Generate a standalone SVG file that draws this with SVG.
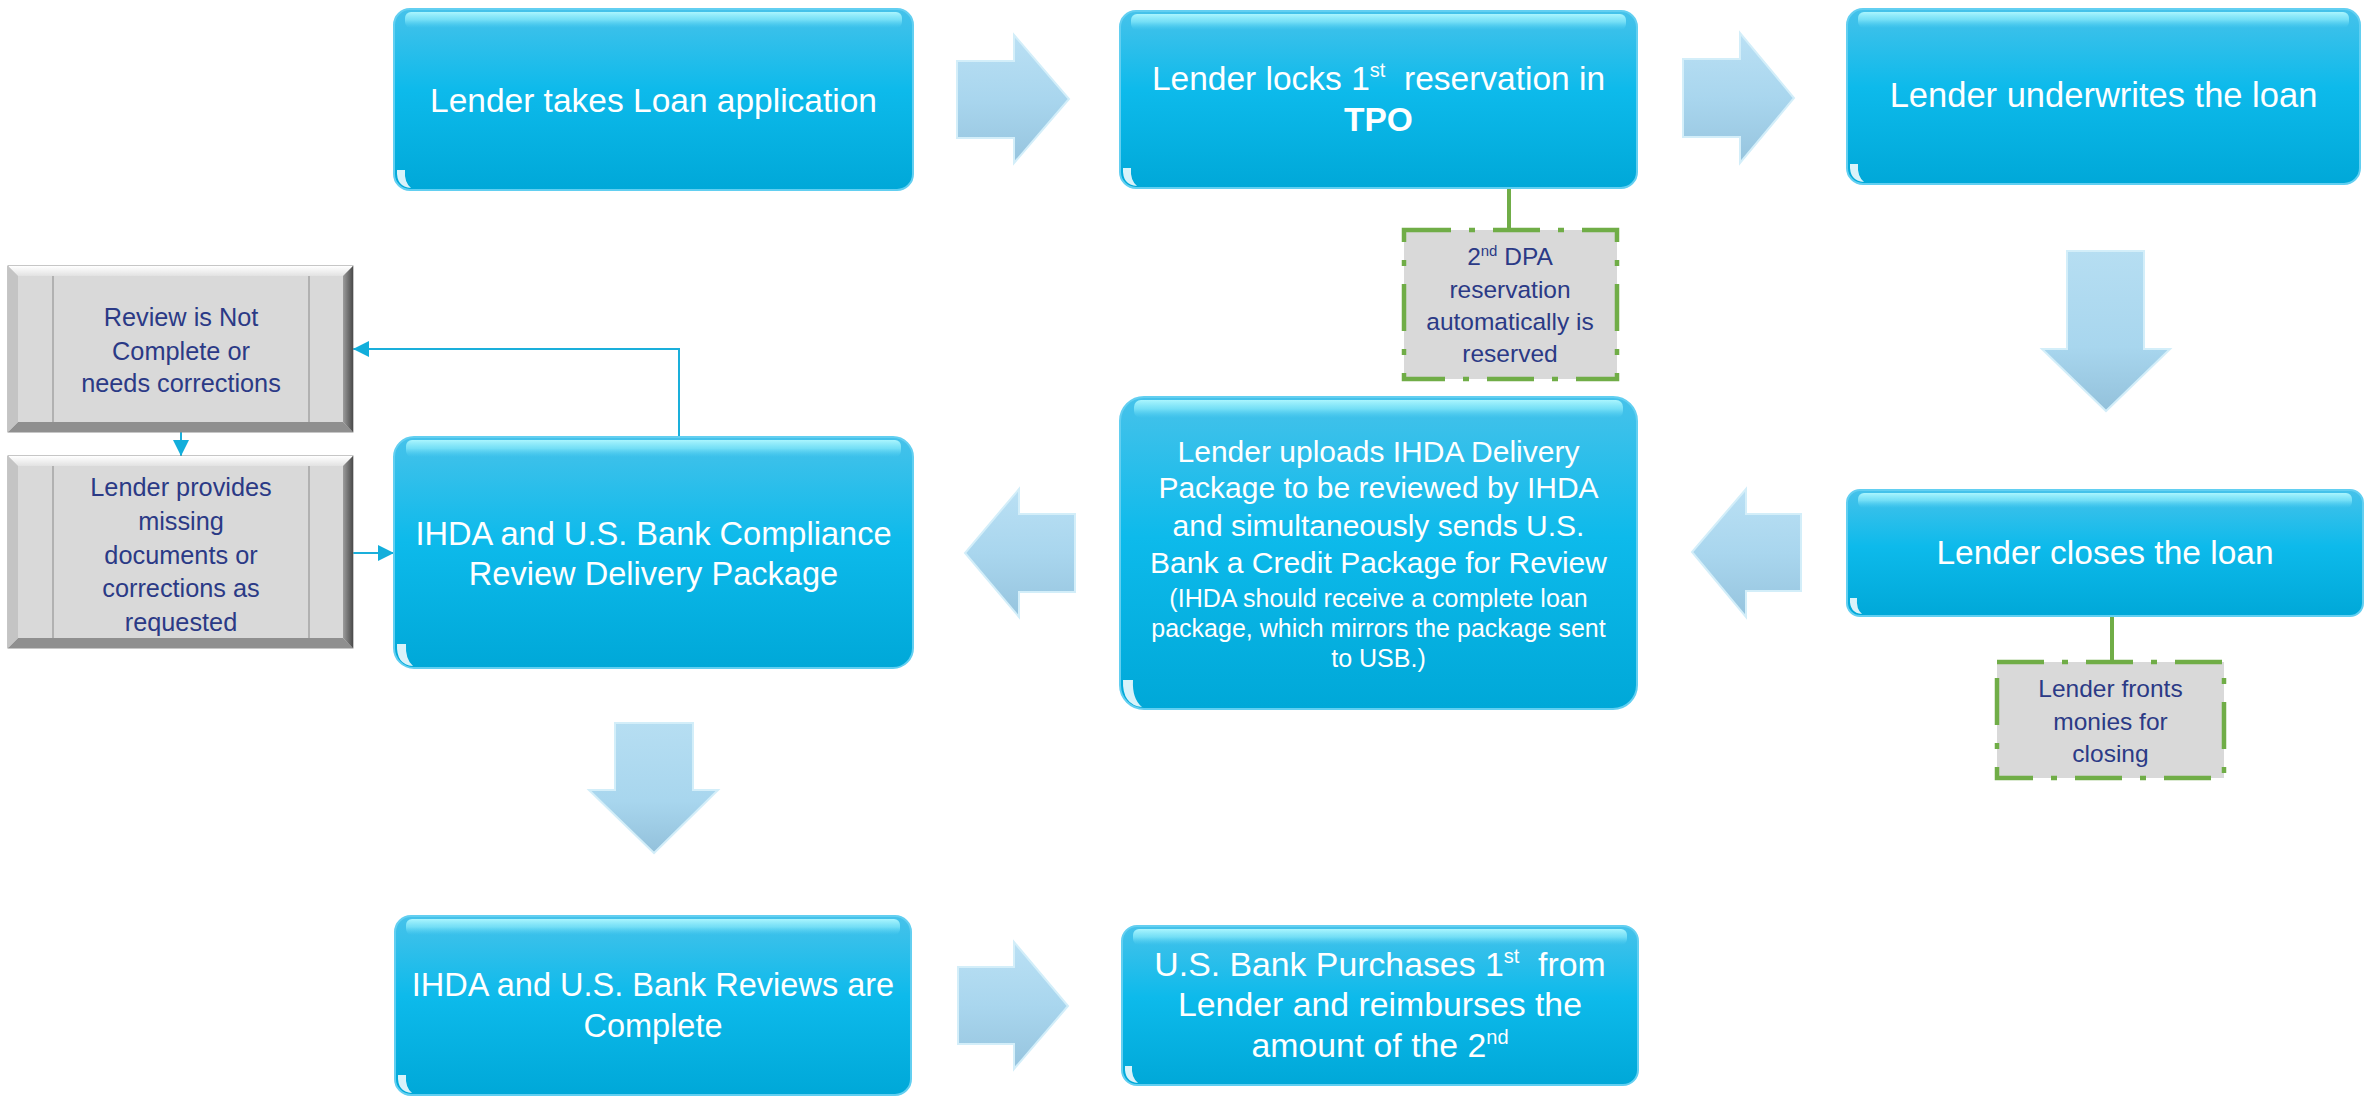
<svg xmlns="http://www.w3.org/2000/svg" width="2371" height="1097" viewBox="0 0 2371 1097">
<defs>
<style>
.box{fill:url(#gBox);stroke:#62CFF1;stroke-width:2}
.hl{fill:url(#gHl)}
.gloss{fill:#FFFFFF;opacity:0.85}
.bt{font-family:"Liberation Sans",Arial,sans-serif;fill:#FFFFFF;text-anchor:middle;font-size:33.5px}
.gt{font-family:"Liberation Sans",Arial,sans-serif;fill:#2B3A86;text-anchor:middle;font-size:25.3px}
.nt{font-family:"Liberation Sans",Arial,sans-serif;fill:#2B3A86;text-anchor:middle;font-size:24.5px}
.arr{fill:url(#gArr);stroke:#D3EEF9;stroke-width:2}
.arrd{fill:url(#gArrD);stroke:#D3EEF9;stroke-width:2}
.note{fill:#D9D9D9;stroke:#70AD47;stroke-width:4.5;stroke-dasharray:47 18 6 18}
.gline{stroke:#70AD47;stroke-width:4;fill:none}
.bline{stroke:#1AAFDB;stroke-width:2;fill:none}
.gbox{fill:#D9D9D9;stroke:#8E8E8E;stroke-width:1}
.bvT{fill:url(#gBvT)}
.bvB{fill:#8F8F8F}
.bvR{fill:url(#gBvR)}
.bvL{fill:#C4C4C4}
.inl{stroke:#A3A3A3;stroke-width:1.5}
</style>
<linearGradient id="gBox" x1="0" y1="0" x2="0" y2="1">
<stop offset="0" stop-color="#46C2EA"/>
<stop offset="0.45" stop-color="#0DBAEB"/>
<stop offset="1" stop-color="#00A8D8"/>
</linearGradient>
<linearGradient id="gHl" x1="0" y1="0" x2="0" y2="1">
<stop offset="0" stop-color="#B0F8FF" stop-opacity="0.95"/>
<stop offset="0.5" stop-color="#8AEBFB" stop-opacity="0.7"/>
<stop offset="1" stop-color="#5AD3F3" stop-opacity="0"/>
</linearGradient>
<linearGradient id="gArr" x1="0" y1="0" x2="0" y2="1">
<stop offset="0" stop-color="#BAE0F4"/>
<stop offset="0.5" stop-color="#A9D6EE"/>
<stop offset="1" stop-color="#96C4DE"/>
</linearGradient>
<linearGradient id="gArrD" x1="0" y1="0" x2="0" y2="1">
<stop offset="0" stop-color="#B6DEF2"/>
<stop offset="0.6" stop-color="#A8D6EE"/>
<stop offset="1" stop-color="#93C1DB"/>
</linearGradient>
<linearGradient id="gBvT" x1="0" y1="0" x2="0" y2="1">
<stop offset="0" stop-color="#FFFFFF"/>
<stop offset="1" stop-color="#E2E2E2"/>
</linearGradient>
<linearGradient id="gBvR" x1="1" y1="0" x2="0" y2="0">
<stop offset="0" stop-color="#4A4A4A"/>
<stop offset="1" stop-color="#9C9C9C"/>
</linearGradient>
<marker id="ah" viewBox="0 0 16 16" refX="16" refY="8" markerWidth="16" markerHeight="16" markerUnits="userSpaceOnUse" orient="auto">
<path d="M0,0 L16,8 L0,16 z" fill="#12AEDB"/>
</marker>
</defs>
<rect width="2371" height="1097" fill="#FFFFFF"/>

<g id="connectors">
<path class="gline" d="M1509,188 V230"/>
<path class="gline" d="M2112,616 V662"/>
<path class="bline" d="M679,437 V349 H353" marker-end="url(#ah)"/>
<path class="bline" d="M181,432 V456" marker-end="url(#ah)"/>
<path class="bline" d="M353,553 H394" marker-end="url(#ah)"/>
<polygon class="arr" points="957,61 1014,61 1014,35 1069,99 1014,163 1014,138 957,138"/>
<polygon class="arr" points="1683,59 1740,59 1740,33 1794,98 1740,163 1740,137 1683,137"/>
<polygon class="arrd" points="2067,251 2144,251 2144,349 2170,349 2106,411 2042,349 2067,349"/>
<polygon class="arr" points="1801,514 1746,514 1746,489 1692,552 1746,617 1746,591 1801,591"/>
<polygon class="arr" points="1075,514 1019,514 1019,489 965,553 1019,617 1019,592 1075,592"/>
<polygon class="arrd" points="615,723 693,723 693,790 718,790 654,853 589,790 615,790"/>
<polygon class="arr" points="958,967 1014,967 1014,942 1068,1006 1014,1069 1014,1044 958,1044"/>
</g>

<g id="n1">
<rect class="box" x="394" y="9" width="519" height="181" rx="16"/>
<rect class="hl" x="405" y="12" width="497" height="16" rx="6"/>
<path class="gloss" d="M397,170 Q396,187 411,188 Q404,182 405,170 Z"/>
<text class="bt" x="653.5" y="112">Lender takes Loan application</text>
</g>

<g id="n2">
<rect class="box" x="1120" y="11" width="517" height="177" rx="16"/>
<rect class="hl" x="1131" y="14" width="495" height="16" rx="6"/>
<path class="gloss" d="M1123,168 Q1122,185 1137,186 Q1130,180 1131,168 Z"/>
<text class="bt" x="1378.5" y="90">Lender locks 1<tspan font-size="20" dy="-13">st</tspan><tspan dy="13">&#160; reservation in</tspan></text>
<text class="bt" x="1378.5" y="131" font-weight="bold">TPO</text>
</g>

<g id="n3">
<rect class="box" x="1847" y="9" width="513" height="175" rx="16"/>
<rect class="hl" x="1858" y="12" width="491" height="16" rx="6"/>
<path class="gloss" d="M1850,164 Q1849,181 1864,182 Q1857,176 1858,164 Z"/>
<text class="bt" x="2103.5" y="107" style="font-size:34.5px">Lender underwrites the loan</text>
</g>

<g id="note1">
<rect class="note" x="1404" y="230" width="213" height="149"/>
<text class="nt" x="1510" y="265">2<tspan font-size="15" dy="-9">nd</tspan><tspan dy="9"> DPA</tspan></text>
<text class="nt" x="1510" y="298">reservation</text>
<text class="nt" x="1510" y="330">automatically is</text>
<text class="nt" x="1510" y="362">reserved</text>
</g>

<g id="n4">
<rect class="box" x="1847" y="490" width="516" height="126" rx="13"/>
<rect class="hl" x="1858" y="493" width="494" height="15" rx="6"/>
<path class="gloss" d="M1850,598 Q1849,613 1862,614 Q1856,609 1857,598 Z"/>
<text class="bt" x="2105" y="564">Lender closes the loan</text>
</g>

<g id="note2">
<rect class="note" x="1997" y="662" width="227" height="116"/>
<text class="nt" x="2110.5" y="697">Lender fronts</text>
<text class="nt" x="2110.5" y="730">monies for</text>
<text class="nt" x="2110.5" y="762">closing</text>
</g>

<g id="n5">
<rect class="box" x="1120" y="397" width="517" height="312" rx="24"/>
<rect class="hl" x="1134" y="400" width="489" height="18" rx="7"/>
<path class="gloss" d="M1123,680 Q1122,705 1142,707 Q1132,699 1133,680 Z"/>
<text class="bt" x="1378.5" y="462" style="font-size:30px">Lender uploads IHDA Delivery</text>
<text class="bt" x="1378.5" y="498" style="font-size:30px">Package to be reviewed by IHDA</text>
<text class="bt" x="1378.5" y="536" style="font-size:30px">and simultaneously sends U.S.</text>
<text class="bt" x="1378.5" y="573" style="font-size:30px">Bank a Credit Package for Review</text>
<text class="bt" x="1378.5" y="607" style="font-size:25px">(IHDA should receive a complete loan</text>
<text class="bt" x="1378.5" y="637" style="font-size:25px">package, which mirrors the package sent</text>
<text class="bt" x="1378.5" y="667" style="font-size:25px">to USB.)</text>
</g>

<g id="n6">
<rect class="box" x="394" y="437" width="519" height="231" rx="20"/>
<rect class="hl" x="406" y="440" width="495" height="17" rx="6"/>
<path class="gloss" d="M397,644 Q396,665 413,666 Q405,659 406,644 Z"/>
<text class="bt" x="653.5" y="545" style="font-size:32.6px">IHDA and U.S. Bank Compliance</text>
<text class="bt" x="653.5" y="585" style="font-size:32.6px">Review Delivery Package</text>
</g>

<g id="g1">
<rect class="gbox" x="8" y="266" width="345" height="166"/>
<polygon class="bvT" points="8,266 353,266 343,276 18,276"/>
<polygon class="bvB" points="8,432 353,432 343,422 18,422"/>
<polygon class="bvR" points="353,266 353,432 343,422 343,276"/>
<polygon class="bvL" points="8,266 8,432 18,422 18,276"/>
<line class="inl" x1="53" y1="276" x2="53" y2="422"/>
<line class="inl" x1="309" y1="276" x2="309" y2="422"/>
<text class="gt" x="181" y="326">Review is Not</text>
<text class="gt" x="181" y="360">Complete or</text>
<text class="gt" x="181" y="392">needs corrections</text>
</g>

<g id="g2">
<rect class="gbox" x="8" y="456" width="345" height="192"/>
<polygon class="bvT" points="8,456 353,456 343,466 18,466"/>
<polygon class="bvB" points="8,648 353,648 343,638 18,638"/>
<polygon class="bvR" points="353,456 353,648 343,638 343,466"/>
<polygon class="bvL" points="8,456 8,648 18,638 18,466"/>
<line class="inl" x1="53" y1="466" x2="53" y2="638"/>
<line class="inl" x1="309" y1="466" x2="309" y2="638"/>
<text class="gt" x="181" y="496">Lender provides</text>
<text class="gt" x="181" y="530">missing</text>
<text class="gt" x="181" y="564">documents or</text>
<text class="gt" x="181" y="597">corrections as</text>
<text class="gt" x="181" y="631">requested</text>
</g>

<g id="n7">
<rect class="box" x="395" y="916" width="516" height="179" rx="16"/>
<rect class="hl" x="406" y="919" width="494" height="16" rx="6"/>
<path class="gloss" d="M398,1075 Q397,1092 412,1093 Q405,1087 406,1075 Z"/>
<text class="bt" x="653" y="996" style="font-size:32.5px">IHDA and U.S. Bank Reviews are</text>
<text class="bt" x="653" y="1037" style="font-size:32.5px">Complete</text>
</g>

<g id="n8">
<rect class="box" x="1122" y="926" width="516" height="159" rx="15"/>
<rect class="hl" x="1133" y="929" width="494" height="16" rx="6"/>
<path class="gloss" d="M1125,1066 Q1124,1082 1138,1083 Q1131,1077 1132,1066 Z"/>
<text class="bt" x="1380" y="976" style="font-size:33.8px">U.S. Bank Purchases 1<tspan font-size="20" dy="-13">st</tspan><tspan dy="13">&#160; from</tspan></text>
<text class="bt" x="1380" y="1016" style="font-size:33.8px">Lender and reimburses the</text>
<text class="bt" x="1380" y="1057" style="font-size:33.8px">amount of the 2<tspan font-size="20" dy="-13">nd</tspan></text>
</g>
</svg>
